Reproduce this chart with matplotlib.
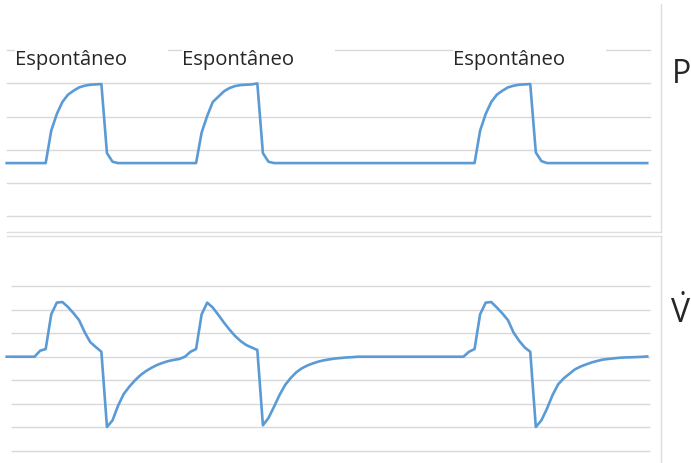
import matplotlib
matplotlib.use("Agg")
import matplotlib.pyplot as plt
import matplotlib.transforms as mtransforms
from matplotlib.patches import Rectangle
from matplotlib.lines import Line2D

plt.rcParams["mathtext.fontset"] = "custom"
plt.rcParams["mathtext.rm"] = "Open Sans"
plt.rcParams["mathtext.it"] = "Open Sans"

# Ventilator waveforms: airway pressure (cmH2O) and flow (L/min), one value per sample
pressure = [
    8, 8, 8, 8, 8, 8, 8, 8,
    12.9, 15.4, 17.2, 18.3, 18.9, 19.4, 19.65, 19.8, 19.85, 19.9,
    9.5, 8.2,
    8, 8, 8, 8, 8, 8, 8, 8, 8, 8, 8, 8, 8, 8, 8,
    12.6, 15.1, 17.2, 18.0, 18.8, 19.3, 19.6, 19.75, 19.8, 19.85, 20.0,
    9.5, 8.2,
    8, 8, 8, 8, 8, 8, 8, 8, 8, 8, 8, 8, 8, 8, 8, 8, 8, 8, 8, 8,
    8, 8, 8, 8, 8, 8, 8, 8, 8, 8, 8, 8, 8, 8, 8, 8, 8,
    12.9, 15.4, 17.2, 18.3, 18.9, 19.4, 19.65, 19.8, 19.85, 19.9,
    9.6, 8.3,
    8, 8, 8, 8, 8, 8, 8, 8, 8, 8, 8, 8, 8, 8, 8, 8, 8, 8, 8,
]

flow = [
    0, 0, 0, 0, 0, 0,
    5.1, 6.5, 36.0, 45.9, 46.4, 42.2, 36.9, 31.0, 20.8, 12.4, 8.2, 4.2,
    -59.6, -54.0, -41.5, -31.7, -25.5, -20.2, -15.7, -12.2, -9.4, -7.0, -5.2, -3.7, -2.7, -1.9,
    0.0, 4.2, 6.5, 36.0, 45.9, 41.7, 35.5, 29.0, 23.0, 17.6, 13.3, 9.9, 7.8, 5.7,
    -58.2, -52.0, -42.4, -32.3, -23.9, -18.0, -13.2, -9.8, -7.4, -5.6, -4.1, -3.0, -2.2, -1.5,
    -1.1, -0.6, -0.4,
    0, 0, 0, 0, 0, 0, 0, 0, 0, 0, 0, 0, 0, 0, 0, 0, 0, 0, 0, 0,
    4.2, 6.5, 36.0, 45.9, 46.4, 41.7, 36.7, 31.0, 20.5, 13.5, 7.9, 4.2,
    -59.6, -54.0, -44.1, -32.6, -23.5, -18.4, -14.6, -10.8, -8.4, -6.6, -4.9, -3.6, -2.5, -1.9,
    -1.4, -0.9, -0.6, -0.5, -0.3, -0.1, 0.2,
]

samples = list(range(len(pressure)))

pressure_ticks = [0, 5, 10, 15, 20, 25]
flow_ticks = [-80, -60, -40, -20, 0, 20, 40, 60]

breath_labels = ["Espontâneo", "Espontâneo", "Espontâneo"]
label_left_px = [15, 182, 453]
pressure_name = "P"
flow_name = r"$\dot{\mathrm{V}}$"

LINE = "#5b9bd5"
GRID = "#d9d9d9"
FRAME = "#dedede"
TEXT = "#262626"

W, H = 691, 464
fig = plt.figure(figsize=(W / 100, H / 100), dpi=100)
fig.patch.set_facecolor("white")

# pixel coordinates measured from the top-left corner of the figure
px = mtransforms.Affine2D().scale(1 / W, -1 / H).translate(0, 1) + fig.transFigure


def axes_px(left, top, right, bottom):
    return fig.add_axes([left / W, (H - bottom) / H, (right - left) / W, (bottom - top) / H])


X_MAX = 115.5

# --- pressure panel ---
ax_p = axes_px(6.7, 51.2, 650, 217.2)
ax_p.set_xlim(0, X_MAX)
ax_p.set_ylim(0, 25)
for v in pressure_ticks:
    ax_p.axhline(v, color=GRID, lw=1.0, zorder=1, clip_on=False)
ax_p.plot(samples, pressure, color=LINE, lw=1.9, zorder=3, clip_on=False,
          solid_joinstyle="round")

# --- flow panel ---
ax_f = axes_px(6.7, 287, 650, 452)
ax_f.set_xlim(0, X_MAX)
ax_f.set_ylim(-80, 60)
ax_f.hlines(flow_ticks, 0.77, X_MAX, color=GRID, lw=1.0, zorder=1, clip_on=False)
ax_f.plot(samples, flow, color=LINE, lw=1.9, zorder=3, clip_on=False,
          solid_joinstyle="round")

for ax in (ax_p, ax_f):
    ax.set_axis_off()

# chart-area frames
for (x0, y0, x1, y1) in [(661, 5, 661, 233), (7, 233, 661, 233),
                         (7, 237, 661, 237), (661, 237, 661, 464)]:
    fig.add_artist(Line2D([x0, x1], [y0, y1], transform=px, color=FRAME, lw=1.0))

# breath annotations with white boxes over the top gridline
for left, text in zip(label_left_px, breath_labels):
    fig.add_artist(Rectangle((left, 40), 153, 26, transform=px,
                             facecolor="white", edgecolor="none", zorder=4))
    fig.text(left, 65, text, transform=px, fontsize=14.6, color=TEXT,
             family=["Open Sans", "DejaVu Sans"], ha="left", va="baseline", zorder=5)

fig.text(672, 83, pressure_name, transform=px, fontsize=23, color=TEXT,
         family=["Open Sans", "DejaVu Sans"], ha="left", va="baseline")
fig.text(670, 323.3, flow_name, transform=px, fontsize=23, color=TEXT,
         family=["Open Sans", "DejaVu Sans"], ha="left", va="baseline")

fig.savefig("out.png", dpi=100, facecolor="white")
